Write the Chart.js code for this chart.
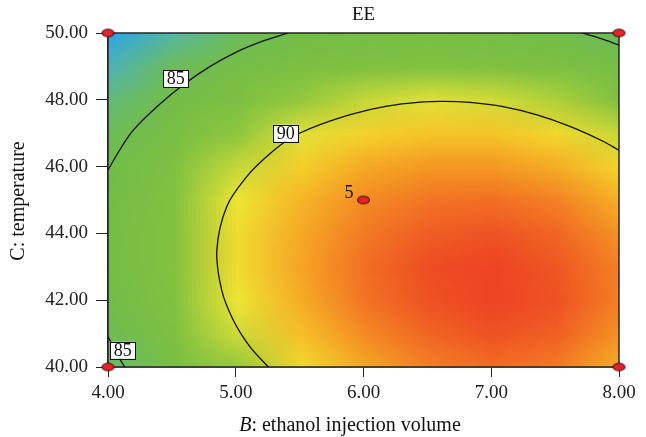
<!DOCTYPE html>
<html><head><meta charset="utf-8">
<script src="https://cdn.jsdelivr.net/npm/chart.js@4.4.0/dist/chart.umd.min.js"></script>
<style>html,body{margin:0;padding:0;background:#fff;}#wrap{width:646px;height:437px;}</style>
</head><body><div id="wrap"><canvas id="c" width="646" height="437"></canvas></div>
<script>
// ---- data ----
const xGrid = [4.0, 4.5, 5.0, 5.5, 6.0, 6.5, 7.0, 7.5, 8.0];
const yGrid = [40, 41, 42, 43, 44, 45, 46, 47, 48, 49, 50];
// EE surface estimates, one row per yGrid value (bottom to top), one column per xGrid value
const ee40 = [83.7, 86.5, 88.8, 90.6, 92.0, 92.9, 93.3, 93.0, 91.8];
const ee41 = [84.7, 87.4, 89.7, 91.4, 92.7, 93.5, 93.9, 93.6, 92.5];
const ee42 = [85.4, 88.0, 90.2, 91.9, 93.2, 93.9, 94.2, 93.9, 92.9];
const ee43 = [85.8, 88.4, 90.5, 92.1, 93.3, 94.0, 94.2, 93.8, 92.9];
const ee44 = [85.9, 88.4, 90.5, 92.0, 93.1, 93.7, 93.9, 93.5, 92.5];
const ee45 = [85.7, 88.2, 90.2, 91.7, 92.7, 93.2, 93.3, 92.9, 91.8];
const ee46 = [85.3, 87.7, 89.6, 91.0, 92.0, 92.4, 92.4, 91.9, 90.8];
const ee47 = [84.5, 86.8, 88.7, 90.0, 90.9, 91.3, 91.3, 90.7, 89.6];
const ee48 = [83.5, 85.7, 87.5, 88.8, 89.6, 90.0, 89.8, 89.2, 88.1];
const ee49 = [82.2, 84.3, 86.0, 87.3, 88.0, 88.3, 88.1, 87.4, 86.3];
const ee50 = [80.5, 82.7, 84.3, 85.5, 86.1, 86.4, 86.1, 85.3, 84.2];
const eeRows = [ee40, ee41, ee42, ee43, ee44, ee45, ee46, ee47, ee48, ee49, ee50];

const contour90 = [
  {x:5.255,y:40.0},{x:5.112,y:40.6},{x:4.981,y:41.4},{x:4.890,y:42.3},{x:4.852,y:43.5},
  {x:4.929,y:44.8},{x:5.086,y:45.7},{x:5.242,y:46.3},{x:5.39,y:46.76},
  {x:5.503,y:47.006},{x:5.660,y:47.26},{x:5.918,y:47.58},{x:6.184,y:47.81},{x:6.442,y:47.93},
  {x:6.622,y:47.955},{x:6.834,y:47.92},{x:7.092,y:47.795},{x:7.358,y:47.55},{x:7.616,y:47.205},
  {x:7.875,y:46.76},{x:8.0,y:46.49}];
const contour85TopLeft = [
  {x:4.0,y:45.90},{x:4.1,y:46.55},{x:4.2,y:47.10},{x:4.4,y:47.85},{x:4.6,y:48.48},
  {x:4.8,y:49.0},{x:5.0,y:49.42},{x:5.2,y:49.74},{x:5.41,y:50.0}];
const contour85BottomLeft = [{x:4.0,y:40.91},{x:4.09,y:40.26},{x:4.13,y:40.0}];
const contour85TopRight = [{x:7.71,y:50.0},{x:7.86,y:49.83},{x:8.0,y:49.64}];
const contourLabels = [
  {text:'85', x:4.531, y:48.63},
  {text:'90', x:5.392, y:47.00},
  {text:'85', x:4.116, y:40.50}];
const designPoints = [{x:4,y:40},{x:4,y:50},{x:8,y:50},{x:8,y:40},{x:6,y:45}];
const designLabels = ['', '', '', '', '5'];
const xTicks = [4, 5, 6, 7, 8];
const yTicks = [40, 42, 44, 46, 48, 50];

// ---- colour scale ----
const colorStops = [
  [80.5,[45,165,230]],[82.5,[85,182,170]],[84.0,[108,188,95]],[85.5,[115,189,70]],
  [88.5,[130,194,64]],[89.4,[185,212,58]],[90.2,[238,229,52]],[91.2,[246,200,40]],
  [92.2,[245,160,35]],[93.2,[242,115,36]],[94.2,[237,68,35]]];
function colorFor(v){
  if (v <= colorStops[0][0]) return colorStops[0][1];
  for (let i=1;i<colorStops.length;i++){
    if (v <= colorStops[i][0]){
      const [a,ca]=colorStops[i-1],[b,cb]=colorStops[i];
      const t=(v-a)/(b-a);
      return ca.map((c,k)=>Math.round(c+(cb[k]-c)*t));
    }
  }
  return colorStops[colorStops.length-1][1];
}

function markerCanvas(){
  const c=document.createElement('canvas'); c.width=15; c.height=11;
  const g=c.getContext('2d');
  g.beginPath(); g.ellipse(7.5,5.5,6,3.7,0,0,Math.PI*2);
  g.fillStyle='#e8212b'; g.fill(); g.lineWidth=1.1; g.strokeStyle='#4a0a0a'; g.stroke();
  return c;
}

const SERIF = '"Liberation Serif","Times New Roman",serif';

const heatmapPlugin = {
  id:'heatmap',
  beforeDatasetsDraw(chart){
    const {ctx, chartArea:a, scales:{x, y}} = chart;
    const nx=xGrid.length, ny=yGrid.length;
    const off=document.createElement('canvas'); off.width=nx; off.height=ny;
    const g=off.getContext('2d'); const img=g.createImageData(nx,ny);
    for (let j=0;j<ny;j++){
      const row=eeRows[ny-1-j];
      for (let i=0;i<nx;i++){
        const c=colorFor(row[i]); const p=(j*nx+i)*4;
        img.data[p]=c[0]; img.data[p+1]=c[1]; img.data[p+2]=c[2]; img.data[p+3]=255;
      }
    }
    g.putImageData(img,0,0);
    const dx=(xGrid[1]-xGrid[0])/2, dy=(yGrid[1]-yGrid[0])/2;
    const left=x.getPixelForValue(xGrid[0]-dx), right=x.getPixelForValue(xGrid[nx-1]+dx);
    const top=y.getPixelForValue(yGrid[ny-1]+dy), bottom=y.getPixelForValue(yGrid[0]-dy);
    ctx.save();
    ctx.beginPath(); ctx.rect(a.left,a.top,a.right-a.left,a.bottom-a.top); ctx.clip();
    ctx.imageSmoothingEnabled=true; ctx.imageSmoothingQuality='low';
    ctx.drawImage(off,left,top,right-left,bottom-top);
    ctx.restore();
    ctx.save();
    ctx.strokeStyle='#262626'; ctx.lineWidth=1.5;
    ctx.strokeRect(a.left,a.top,a.right-a.left,a.bottom-a.top);
    ctx.restore();
  },
  afterDatasetsDraw(chart){
    const {ctx, scales:{x, y}} = chart;
    ctx.save();
    ctx.font='18px '+SERIF; ctx.textAlign='center'; ctx.textBaseline='middle';
    contourLabels.forEach(l=>{
      const px=x.getPixelForValue(l.x), py=y.getPixelForValue(l.y);
      const w=25, h=17;
      ctx.fillStyle='#fff'; ctx.fillRect(px-w/2,py-h/2,w,h);
      ctx.strokeStyle='#111'; ctx.lineWidth=1; ctx.strokeRect(Math.round(px-w/2)+0.5,Math.round(py-h/2)+0.5,w,h);
      ctx.fillStyle='#111'; ctx.fillText(l.text,px,py+1);
    });
    ctx.font='18px '+SERIF; ctx.textAlign='right'; ctx.textBaseline='alphabetic';
    designPoints.forEach((p,i)=>{
      if(!designLabels[i]) return;
      ctx.fillStyle='#111';
      ctx.fillText(designLabels[i], x.getPixelForValue(p.x)-10, y.getPixelForValue(p.y)-2);
    });
    // chart title
    ctx.textAlign='center'; ctx.font='19px '+SERIF;
    ctx.fillText('EE', (x.left+x.right)/2, 20);
    // x axis title with italic B
    ctx.font='italic 20px '+SERIF;
    const b='B'; const wb=ctx.measureText(b).width;
    ctx.font='20px '+SERIF;
    const rest=': ethanol injection volume'; const wr=ctx.measureText(rest).width;
    const cx=350, sx=cx-(wb+wr)/2;
    ctx.textAlign='left';
    ctx.font='italic 20px '+SERIF; ctx.fillText(b,sx,431);
    ctx.font='20px '+SERIF; ctx.fillText(rest,sx+wb,431);
    // y axis title
    ctx.translate(24,201); ctx.rotate(-Math.PI/2);
    ctx.textAlign='center'; ctx.font='20px '+SERIF;
    ctx.fillText('C: temperature',0,0);
    ctx.restore();
  }
};

const lineDs = (data) => ({type:'line', data, showLine:true, pointRadius:0, borderColor:'#111',
  borderWidth:1.3, tension:0.35, fill:false});

new Chart(document.getElementById('c'), {
  type:'scatter',
  data:{datasets:[
    {data:designPoints, pointStyle:markerCanvas(), pointRadius:6, clip:false, showLine:false},
    lineDs(contour90), lineDs(contour85TopLeft), lineDs(contour85BottomLeft), lineDs(contour85TopRight)
  ]},
  options:{
    responsive:false, animation:false, devicePixelRatio:1,
    layout:{padding:{left:0, right:27, top:33, bottom:0}},
    plugins:{legend:{display:false}, tooltip:{enabled:false}, title:{display:false}},
    scales:{
      x:{type:'linear', min:4, max:8,
        afterBuildTicks:s=>{s.ticks=xTicks.map(v=>({value:v}));},
        afterFit:s=>{s.height=70;},
        ticks:{callback:v=>Number(v).toFixed(2), color:'#222', font:{family:SERIF,size:19}, padding:5, maxRotation:0},
        grid:{display:true, drawOnChartArea:false, drawTicks:true, tickLength:10, color:'#222', lineWidth:1},
        border:{display:true, color:'#222', width:1.5}},
      y:{type:'linear', min:40, max:50,
        afterBuildTicks:s=>{s.ticks=yTicks.map(v=>({value:v}));},
        afterFit:s=>{s.width=108;},
        ticks:{callback:v=>Number(v).toFixed(2), color:'#222', font:{family:SERIF,size:19}, padding:8},
        grid:{display:true, drawOnChartArea:false, drawTicks:true, tickLength:12, color:'#222', lineWidth:1},
        border:{display:true, color:'#222', width:1.5}}
    }
  },
  plugins:[heatmapPlugin]
});
</script></body></html>
